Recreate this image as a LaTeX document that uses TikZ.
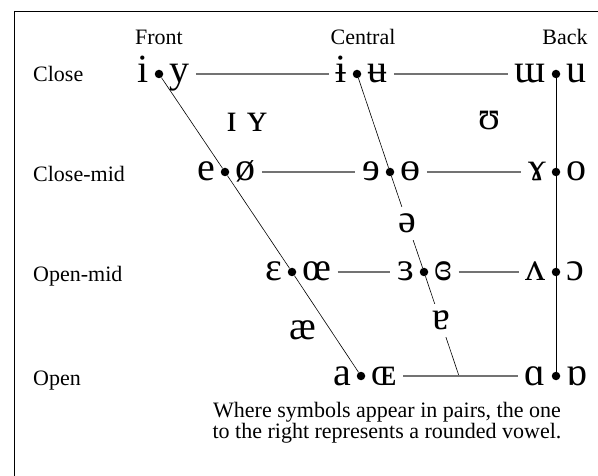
\documentclass[tikz,border=0pt]{standalone}
\usepackage{fontspec}
\setmainfont{Liberation Serif}
\usepackage{tikz}

\newcommand{\vowelfont}{\fontsize{40}{42}\selectfont}
\newcommand{\chartfont}{\fontsize{22}{19}\selectfont}

\begin{document}
\begin{tikzpicture}[x=1pt, y=-1pt,
    vdot/.style={circle, fill=black, inner sep=0pt, minimum size=8.5pt},
    lvowel/.style={font=\vowelfont, anchor=base east, yshift=-9pt, inner xsep=5.5pt, inner ysep=0pt},
    rvowel/.style={font=\vowelfont, anchor=base west, yshift=-9pt, inner xsep=5.5pt, inner ysep=0pt},
    loose/.style={font=\vowelfont, anchor=base, inner sep=0pt},
    masked/.style={font=\vowelfont, anchor=base, fill=white, inner xsep=2pt, inner ysep=7pt},
    rowlabel/.style={font=\chartfont, anchor=base west, inner sep=0pt},
    colhead/.style={font=\chartfont, anchor=base, inner sep=0pt},
    trapline/.style={draw=black, line width=0.6pt},
    rung/.style={draw=black!55, line width=1.1pt, shorten >=1pt, shorten <=1pt}
]
    \useasboundingbox (0,0) rectangle (598,476);

    % Frame
    \draw[line width=1.8pt] (14.5,11) -- (14.5,476);
    \draw[line width=1pt] (14,11.5) -- (598,11.5);

    % Headings
    \node[colhead] (front) at (159,45) {Front};
    \node[colhead] (central) at (363,45) {Central};
    \node[colhead] (back) at (565,45) {Back};
    \node[rowlabel] (close) at (33,82) {Close};
    \node[rowlabel] (closemid) at (33,182) {Close-mid};
    \node[rowlabel] (openmid) at (33,282) {Open-mid};
    \node[rowlabel] (open) at (33,385) {Open};

    % Dots
    \node[vdot] (fclose) at (159,74) {};
    \node[vdot] (fcmid) at (225,172) {};
    \node[vdot] (fomid) at (292,272) {};
    \node[vdot] (fopen) at (361,376) {};
    \node[vdot] (cclose) at (357,74) {};
    \node[vdot] (ccmid) at (390,172) {};
    \node[vdot] (comid) at (424,272) {};
    \coordinate (copen) at (459,376);
    \node[vdot] (bclose) at (556,74) {};
    \node[vdot] (bcmid) at (556,172) {};
    \node[vdot] (bomid) at (556,272) {};
    \node[vdot] (bopen) at (556,376) {};

    % Trapezium
    \draw[trapline] (fclose) -- (fcmid) -- (fomid) -- (fopen);
    \draw[trapline] (cclose) -- (ccmid) -- (comid) -- (copen);
    \draw[trapline] (bclose) -- (bcmid) -- (bomid) -- (bopen);

    % Vowel pairs
    \node[lvowel] (i) at (fclose.west) {i};
    \node[rvowel] (y) at (fclose.east) {y};
    \node[lvowel] (ibar) at (cclose.west) {ɨ};
    \node[rvowel] (ubar) at (cclose.east) {ʉ};
    \node[lvowel] (turnm) at (bclose.west) {ɯ};
    \node[rvowel] (u) at (bclose.east) {u};

    \node[lvowel] (e) at (fcmid.west) {e};
    \node[rvowel] (oslash) at (fcmid.east) {ø};
    \node[lvowel] (reve) at (ccmid.west) {ɘ};
    \node[rvowel] (obar) at (ccmid.east) {ɵ};
    \node[lvowel] (ramshorn) at (bcmid.west) {ɤ};
    \node[rvowel] (o) at (bcmid.east) {o};

    \node[lvowel] (epsilon) at (fomid.west) {ɛ};
    \node[rvowel] (oe) at (fomid.east) {œ};
    \node[lvowel] (revepsilon) at (comid.west) {ɜ};
    \node[rvowel] (closedrev) at (comid.east) {ɞ};
    \node[lvowel] (turnv) at (bomid.west) {ʌ};
    \node[rvowel] (openo) at (bomid.east) {ɔ};

    \node[lvowel] (a) at (fopen.west) {a};
    \node[rvowel] (smalloe) at (fopen.east) {ɶ};
    \node[lvowel] (alpha) at (bopen.west) {ɑ};
    \node[rvowel] (turnalpha) at (bopen.east) {ɒ};

    % Vowels off the grid
    \node[loose] (smalli) at (232,132) {ɪ};
    \node[loose] (smally) at (257.5,132) {ʏ};
    \node[loose] (upsilon) at (489,130) {ʊ};
    \node[loose] (ash) at (303,340) {æ};
    \node[masked] (schwa) at (407.5,233) {ə};
    \node[masked] (turna) at (441,330) {ɐ};

    % Rungs
    \draw[rung] (y.east |- fclose) -- (ibar.west |- cclose);
    \draw[rung] (ubar.east |- cclose) -- (turnm.west |- bclose);
    \draw[rung] (oslash.east |- fcmid) -- (reve.west |- ccmid);
    \draw[rung] (obar.east |- ccmid) -- (ramshorn.west |- bcmid);
    \draw[rung] (oe.east |- fomid) -- (revepsilon.west |- comid);
    \draw[rung] (closedrev.east |- comid) -- (turnv.west |- bomid);
    \draw[rung] (smalloe.east |- fopen) -- (alpha.west |- bopen);

    \node[font=\chartfont, align=center, inner sep=0pt] (note) at (387,423)
        {Where symbols appear in pairs, the one\\to the right represents a rounded vowel.};
\end{tikzpicture}
\end{document}
